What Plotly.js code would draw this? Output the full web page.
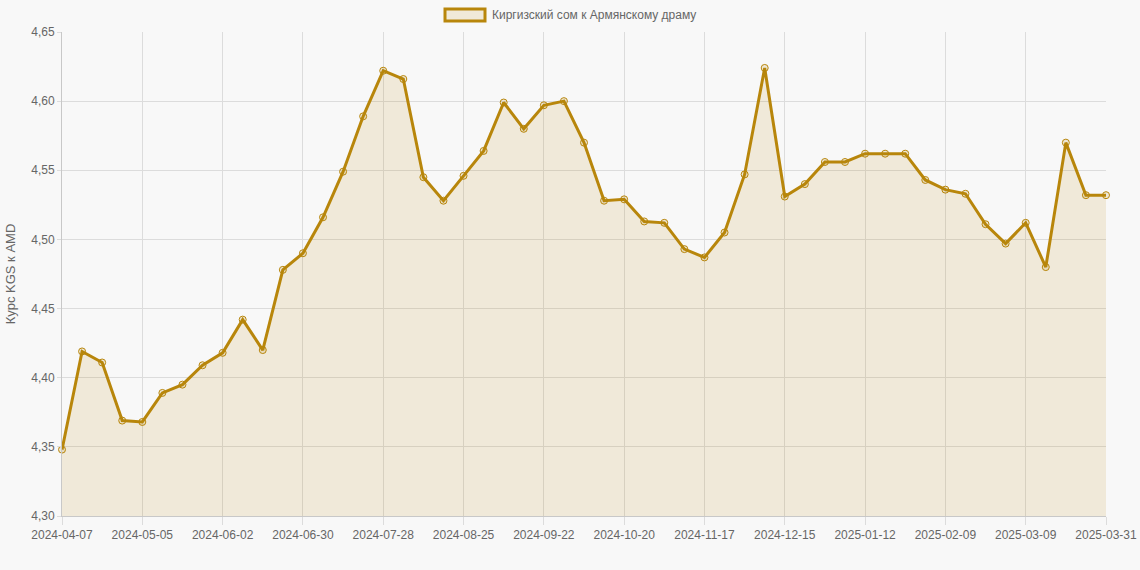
<!DOCTYPE html>
<html>
<head>
<meta charset="utf-8">
<script src="https://cdn.plot.ly/plotly-3.0.1.min.js"></script>
<style>
html,body{margin:0;padding:0;background:#f8f8f8;}
#chart{width:1140px;height:570px;}
</style>
</head>
<body>
<div id="chart"></div>
<script>
const dates = [
  "2024-04-07","2024-04-14","2024-04-21","2024-04-28","2024-05-05","2024-05-12","2024-05-19","2024-05-26",
  "2024-06-02","2024-06-09","2024-06-16","2024-06-23","2024-06-30","2024-07-07","2024-07-14","2024-07-21",
  "2024-07-28","2024-08-04","2024-08-11","2024-08-18","2024-08-25","2024-09-01","2024-09-08","2024-09-15",
  "2024-09-22","2024-09-29","2024-10-06","2024-10-13","2024-10-20","2024-10-27","2024-11-03","2024-11-10",
  "2024-11-17","2024-11-24","2024-12-01","2024-12-08","2024-12-15","2024-12-22","2024-12-29","2025-01-05",
  "2025-01-12","2025-01-19","2025-01-26","2025-02-02","2025-02-09","2025-02-16","2025-02-23","2025-03-02",
  "2025-03-09","2025-03-16","2025-03-23","2025-03-30","2025-03-31"
];
const rates = [
  4.348, 4.419, 4.411, 4.369, 4.368, 4.389, 4.395, 4.409,
  4.418, 4.442, 4.420, 4.478, 4.490, 4.516, 4.549, 4.589,
  4.622, 4.616, 4.545, 4.528, 4.546, 4.564, 4.599, 4.580,
  4.597, 4.600, 4.570, 4.528, 4.529, 4.513, 4.512, 4.493,
  4.487, 4.505, 4.547, 4.624, 4.531, 4.540, 4.556, 4.556,
  4.562, 4.562, 4.562, 4.543, 4.536, 4.533, 4.511, 4.497,
  4.512, 4.480, 4.570, 4.532, 4.532
];
const tickDates = [
  "2024-04-07","2024-05-05","2024-06-02","2024-06-30","2024-07-28","2024-08-25","2024-09-22",
  "2024-10-20","2024-11-17","2024-12-15","2025-01-12","2025-02-09","2025-03-09","2025-03-31"
];
const seriesName = "Киргизский сом к Армянскому драму";
const yTitle = "Курс KGS к AMD";

const lineColor = "rgb(184,134,11)";
const trace = {
  x: dates, y: rates, type: "scatter", mode: "lines+markers",
  fill: "tozeroy", fillcolor: "rgba(184,134,11,0.13)",
  line: {color: lineColor, width: 3},
  marker: {size: 7, color: "rgba(184,134,11,0.15)", line: {color: lineColor, width: 1}},
  cliponaxis: false,
  showlegend: false, name: seriesName
};

const W = 1140, H = 570, L = 62, R = 34, T = 32, B = 54;
const pw = W - L - R, ph = H - T - B;
const px = v => (v - L) / pw;
const py = v => (H - B - v) / ph;

const layout = {
  width: W, height: H,
  margin: {l: L, r: R, t: T, b: B, pad: 0},
  paper_bgcolor: "#f8f8f8", plot_bgcolor: "#f8f8f8",
  separators: ", ",
  font: {family: "Liberation Sans, Arial, sans-serif", size: 12, color: "#666"},
  xaxis: {
    type: "category", range: [0, dates.length - 1],
    tickmode: "array", tickvals: tickDates, ticktext: tickDates,
    showgrid: true, gridcolor: "#dcdcdc", gridwidth: 1,
    ticks: "outside", ticklen: 8, tickcolor: "#dcdcdc",
    showline: true, linecolor: "#c8c8c8", linewidth: 1, mirror: false,
    tickfont: {size: 12, color: "#666"}, zeroline: false, tickangle: 0
  },
  yaxis: {
    range: [4.30, 4.65], dtick: 0.05, tick0: 4.30, tickformat: ".2f",
    showgrid: true, gridcolor: "#dcdcdc", gridwidth: 1,
    ticks: "outside", ticklen: 4, tickcolor: "#dcdcdc",
    showline: true, linecolor: "#c8c8c8", linewidth: 1,
    zeroline: false, tickfont: {size: 12, color: "#666"},
    title: {text: yTitle, font: {size: 13, color: "#666"}, standoff: 12}
  },
  shapes: [
    {type: "rect", xref: "paper", yref: "paper",
     x0: px(445), x1: px(485), y0: py(21), y1: py(9),
     line: {color: lineColor, width: 3}, fillcolor: "rgba(184,134,11,0.13)"}
  ],
  annotations: [
    {xref: "paper", yref: "paper", x: px(490), y: py(15), xanchor: "left", yanchor: "middle",
     text: seriesName, showarrow: false, font: {size: 12, color: "#666"}}
  ],
  showlegend: false
};

Plotly.newPlot("chart", [trace], layout, {displayModeBar: false, staticPlot: true});
</script>
</body>
</html>
